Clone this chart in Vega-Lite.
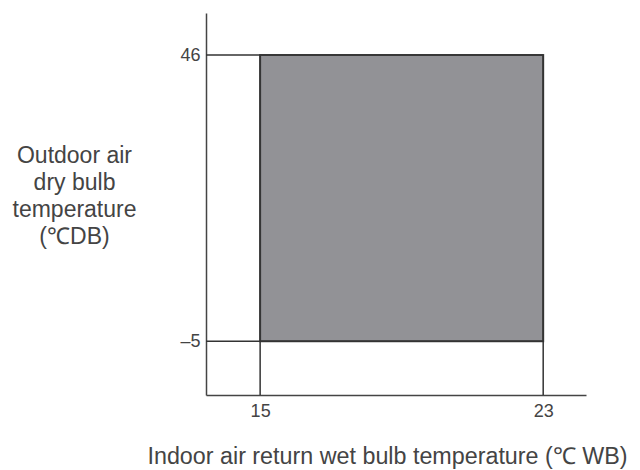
{
  "$schema": "https://vega.github.io/schema/vega-lite/v6.json",
  "width": 380,
  "height": 382,
  "autosize": "none",
  "padding": {"left": 206, "top": 13, "right": 54, "bottom": 75},
  "background": "white",
  "config": {
    "view": {"stroke": null},
    "font": "Liberation Sans",
    "axis": {"grid": false, "ticks": false, "domainColor": "#444", "domainWidth": 1.5, "labelColor": "#444", "titleColor": "#444", "labelFontSize": 18, "titleFontSize": 23, "titleFontWeight": "normal"}
  },
  "datasets": {
    "region": [{"x": 15, "x2": 23, "y": -5, "y2": 46}],
    "lines": [
      {"x": 13.47, "x2": 23, "y": 46, "y2": 46},
      {"x": 13.47, "x2": 23, "y": -5, "y2": -5},
      {"x": 15, "x2": 15, "y": -14.6, "y2": 46},
      {"x": 23, "x2": 23, "y": -14.6, "y2": 46}
    ]
  },
  "layer": [
    {
      "data": {"name": "region"},
      "mark": {"type": "rect", "fill": "#929296", "stroke": "#444", "strokeWidth": 2},
      "encoding": {
        "x": {"field": "x", "type": "quantitative", "scale": {"domain": [13.47, 24.21], "nice": false, "zero": false},
          "axis": {"values": [15, 23], "title": "Indoor air return wet bulb temperature (℃ WB)", "titleFontSize": 23.3, "titleX": 181, "labelPadding": 7, "titlePadding": 25}},
        "x2": {"field": "x2"},
        "y": {"field": "y", "type": "quantitative", "scale": {"domain": [-14.6, 53.5], "nice": false, "zero": false},
          "axis": {"values": [-5, 46], "labelPadding": 6, "labelExpr": "datum.value < 0 ? '–' + abs(datum.value) : datum.label",
            "title": ["Outdoor air", "dry bulb", "temperature", "(℃DB)"], "titleAngle": 0, "titleAlign": "center", "titleBaseline": "top", "titleX": -132, "titleY": 131, "titleLineHeight": 27}},
        "y2": {"field": "y2"}
      }
    },
    {
      "data": {"name": "lines"},
      "mark": {"type": "rule", "color": "#333", "strokeWidth": 1.5},
      "encoding": {
        "x": {"field": "x", "type": "quantitative"},
        "x2": {"field": "x2"},
        "y": {"field": "y", "type": "quantitative"},
        "y2": {"field": "y2"}
      }
    }
  ]
}
